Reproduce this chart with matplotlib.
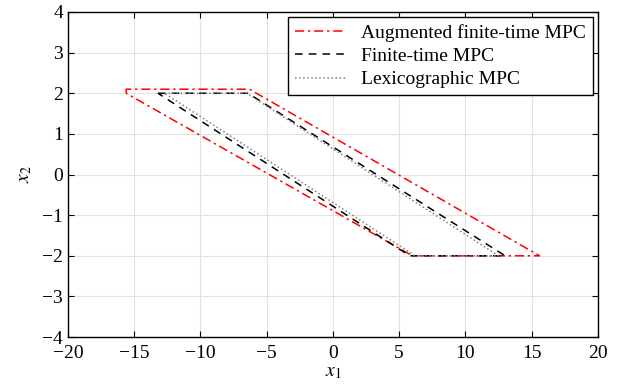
import matplotlib
matplotlib.use('Agg')
import matplotlib.pyplot as plt

plt.rcParams['font.family'] = ['Liberation Serif', 'DejaVu Serif']
plt.rcParams['mathtext.fontset'] = 'stix'

# polygon vertices (x1, x2)
aug_x = [-15.6, -15.6, -6.3, 15.6, 6.0, -15.6]
aug_y = [2.0, 2.1, 2.1, -2.0, -2.0, 2.0]
fin_x = [-13.2, -6.4, 13.0, 5.8, -13.2]
fin_y = [2.0, 2.0, -2.0, -2.0, 2.0]
lex_x = [-12.7, -6.5, 12.5, 6.2, -12.7]
lex_y = [2.0, 2.0, -2.0, -2.0, 2.0]

fig = plt.figure(figsize=(6.17, 3.87), dpi=100)
ax = fig.add_axes([0.110, 0.129, 0.859, 0.840])

ax.plot(aug_x, aug_y, color='red', linestyle=(0, (6, 2.5, 1.5, 2.5)), linewidth=1.1,
        label='Augmented finite-time MPC')
ax.plot(fin_x, fin_y, color='black', linestyle=(0, (5, 4)), linewidth=1.1,
        label='Finite-time MPC')
ax.plot(lex_x, lex_y, color='gray', linestyle=':', linewidth=1.1,
        label='Lexicographic MPC')

ax.set_xlim(-20, 20)
ax.set_ylim(-4, 4)
ax.set_xticks(range(-20, 21, 5))
ax.set_yticks(range(-4, 5, 1))
ax.grid(True, color='#e2e2e2', linewidth=0.8)
ax.set_axisbelow(True)
ax.tick_params(direction='in', top=True, right=True, labelsize=14, length=4)
ax.tick_params(axis='x', pad=6)
for sp in ax.spines.values():
    sp.set_linewidth(1.0)

ax.set_xlabel('$x_1$', fontsize=14, labelpad=1)
ax.set_ylabel('$x_2$', fontsize=14, labelpad=6)

leg = ax.legend(loc='upper right', fontsize=14, fancybox=False,
                edgecolor='black', framealpha=1, handlelength=2.6,
                borderaxespad=0.25, labelspacing=0.3, borderpad=0.35)
leg.get_frame().set_linewidth(1.0)

fig.savefig('out.png', dpi=100)
